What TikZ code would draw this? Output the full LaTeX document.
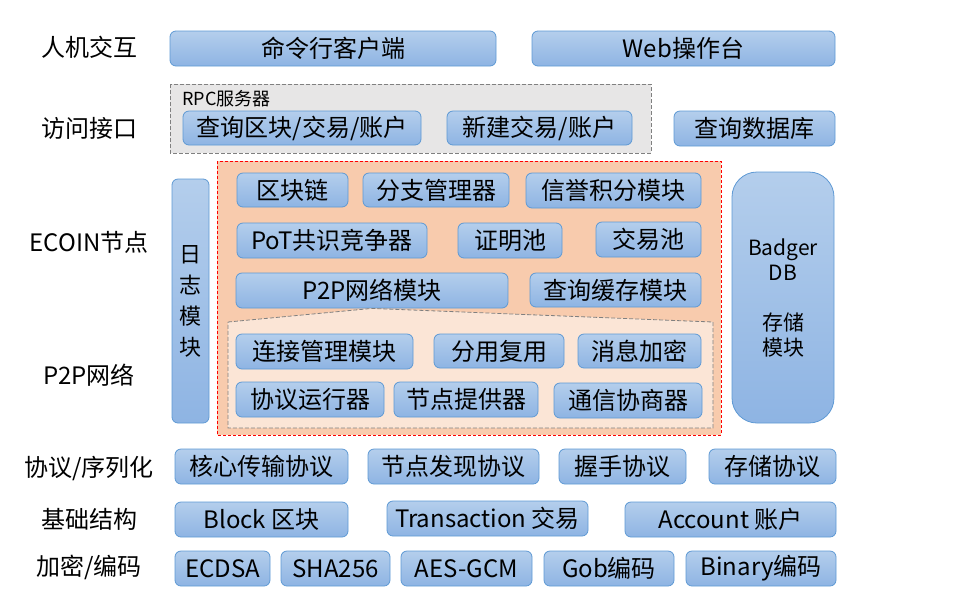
\documentclass[tikz,border=0pt]{standalone}
\usepackage{fontspec}
\setmainfont{Noto Sans CJK SC}
\definecolor{modtop}{RGB}{180,206,236}
\definecolor{modbot}{RGB}{142,180,227}
\definecolor{modline}{RGB}{94,153,212}
\definecolor{nodefill}{RGB}{248,203,173}
\definecolor{netfill}{RGB}{251,229,214}
\definecolor{rpcfill}{RGB}{231,230,230}
\tikzset{
  mod/.style={draw=modline, line width=0.8pt, rounded corners=6pt,
    top color=modtop, bottom color=modbot, inner sep=0pt,
    font=\fontsize{24}{28}\selectfont},
  layer/.style={font=\fontsize{24}{28}\selectfont},
  nodearea/.style={draw=red, line width=0.8pt, dash pattern=on 3pt off 2pt, fill=nodefill},
  netarea/.style={draw=gray, line width=0.8pt, dash pattern=on 4pt off 2pt, fill=netfill},
  rpcarea/.style={draw=gray, line width=0.8pt, dash pattern=on 4pt off 2pt, fill=rpcfill},
}
% module box: name, left, top, right, bottom, text
\newcommand{\blk}[6]{\node[mod, minimum width={#4-#2}, minimum height={#5-#3}]
  (#1) at ({(#2+#4)/2},{(#3+#5)/2}) {#6};}

\begin{document}
\begin{tikzpicture}[x=1pt, y=-1pt]
  \useasboundingbox (0,0) rectangle (965,614);

  % layer names
  \node[layer] (lhci) at (89,47) {人机交互};
  \node[layer] (lapi) at (89,128) {访问接口};
  \node[layer] (lnode) at (89,242) {ECOIN节点};
  \node[layer] (lp2p) at (89,375) {P2P网络};
  \node[layer] (lproto) at (89,468) {协议/序列化};
  \node[layer] (lbase) at (89,519) {基础结构};
  \node[layer] (lcrypt) at (89,567) {加密/编码};

  % human interaction
  \blk{cli}{170}{31}{496}{66}{命令行客户端}
  \blk{web}{532}{31}{835}{66}{Web操作台}

  % access interface
  \draw[rpcarea] (170,84) rectangle (651,153);
  \node[anchor=west, inner sep=0pt, font=\fontsize{18}{20}\selectfont] (rpc) at (182,99) {RPC服务器};
  \blk{query}{183}{111}{421}{145}{查询区块/交易/账户}
  \blk{newtx}{447}{111}{632}{145}{新建交易/账户}
  \blk{qdb}{674}{111}{835}{146}{查询数据库}

  % ecoin node
  \draw[nodearea] (217,161) rectangle (721,435);
  \node[mod, minimum width=37, minimum height=244, align=center,
    font=\fontsize{22}{31}\selectfont] (log) at (190.5,301) {日\\志\\模\\块};
  \node[mod, rounded corners=25pt, minimum width=102, minimum height=251, align=center,
    font=\fontsize{21}{25}\selectfont] (badger) at (783,297.5) {Badger\\DB\\[25pt]存储\\模块};

  \blk{chain}{237}{173}{348}{207}{区块链}
  \blk{fork}{363}{173}{509}{207}{分支管理器}
  \blk{credit}{526}{173}{701}{208}{信誉积分模块}
  \blk{pot}{237}{223}{427}{258}{PoT共识竞争器}
  \blk{proof}{458}{223}{562}{258}{证明池}
  \blk{txpool}{596}{222}{701}{257}{交易池}
  \blk{p2p}{236}{273}{508}{308}{P2P网络模块}
  \blk{cache}{530}{273}{701}{307}{查询缓存模块}

  % p2p network
  \draw[netarea] (228,322) -- (p2p.south) -- (713,322) -- (713,428) -- (228,428) -- cycle;
  \blk{conn}{236}{334}{413}{369}{连接管理模块}
  \blk{mux}{434}{334}{564}{368}{分用复用}
  \blk{enc}{578}{334}{701}{368}{消息加密}
  \blk{runner}{236}{382}{384}{417}{协议运行器}
  \blk{provider}{394}{382}{538}{417}{节点提供器}
  \blk{nego}{554}{383}{702}{418}{通信协商器}

  % protocols
  \blk{core}{175}{449}{348}{484}{核心传输协议}
  \blk{disc}{368}{449}{539}{484}{节点发现协议}
  \blk{hand}{559}{449}{686}{484}{握手协议}
  \blk{store}{709}{449}{836}{484}{存储协议}

  % base structures
  \blk{block}{175}{502}{348}{537}{Block 区块}
  \blk{tx}{387}{501}{588}{536}{Transaction 交易}
  \blk{acct}{625}{502}{836}{537}{Account 账户}

  % crypto and encoding
  \blk{ecdsa}{175}{551}{270}{586}{ECDSA}
  \blk{sha}{281}{551}{390}{586}{SHA256}
  \blk{aes}{401}{551}{532}{586}{AES-GCM}
  \blk{gob}{544}{551}{674}{586}{Gob编码}
  \blk{bin}{686}{551}{836}{586}{Binary编码}
\end{tikzpicture}
\end{document}
